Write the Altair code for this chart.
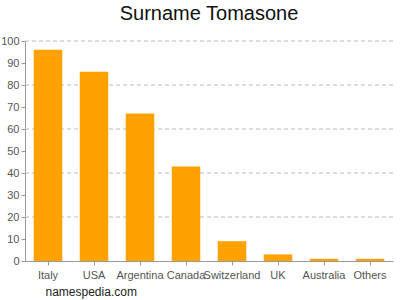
import altair as alt
import pandas as pd

countries = ["Italy", "USA", "Argentina", "Canada", "Switzerland", "UK", "Australia", "Others"]
counts = [96, 86, 67, 43, 9, 3, 1, 1]
y_ticks = [0, 10, 20, 30, 40, 50, 60, 70, 80, 90, 100]
grid_values = [20, 40, 60, 80, 100]

df = pd.DataFrame({"country": countries, "count": counts})
grid_df = pd.DataFrame({"g": grid_values})

yscale = alt.Scale(domain=[0, 100], nice=False)
yaxis = alt.Axis(title=None, values=y_ticks, labelFontSize=11, labelColor="#555",
                 labelFont="Liberation Sans", domainColor="#999",
                 tickColor="#999", tickSize=4, labelPadding=2, grid=False)

grid = alt.Chart(grid_df).mark_rule(color="#bbb", strokeDash=[4, 3], strokeWidth=1).encode(
    y=alt.Y("g:Q", scale=yscale, axis=yaxis)
)

bars = alt.Chart(df).mark_bar(color="#FFA200").encode(
    x=alt.X("country:N", sort=countries,
            scale=alt.Scale(paddingInner=0.38, paddingOuter=0.19),
            axis=alt.Axis(title="namespedia.com", titleAnchor="start", titleAlign="left",
                          titleX=20, titleY=25, titleFontSize=12, titleFontWeight="normal",
                          titleColor="#222", titleFont="Liberation Sans",
                          labelAngle=0, labelFontSize=11, labelColor="#555",
                          labelFont="Liberation Sans", domainColor="#999",
                          tickColor="#999", tickSize=4, labelPadding=4)),
    y=alt.Y("count:Q", scale=yscale, axis=yaxis),
)

chart = alt.layer(grid, bars).properties(
    width=368, height=220,
    title=alt.Title("Surname Tomasone", fontSize=20, font="Liberation Sans",
                    fontWeight="normal", color="#111", anchor="middle", offset=11),
    autosize=alt.AutoSizeParams(type="none"),
    padding={"left": 25, "top": 41, "right": 7, "bottom": 39},
).configure_view(stroke=None)

chart.save("out.html", embed_options={"renderer": "svg", "actions": False})
